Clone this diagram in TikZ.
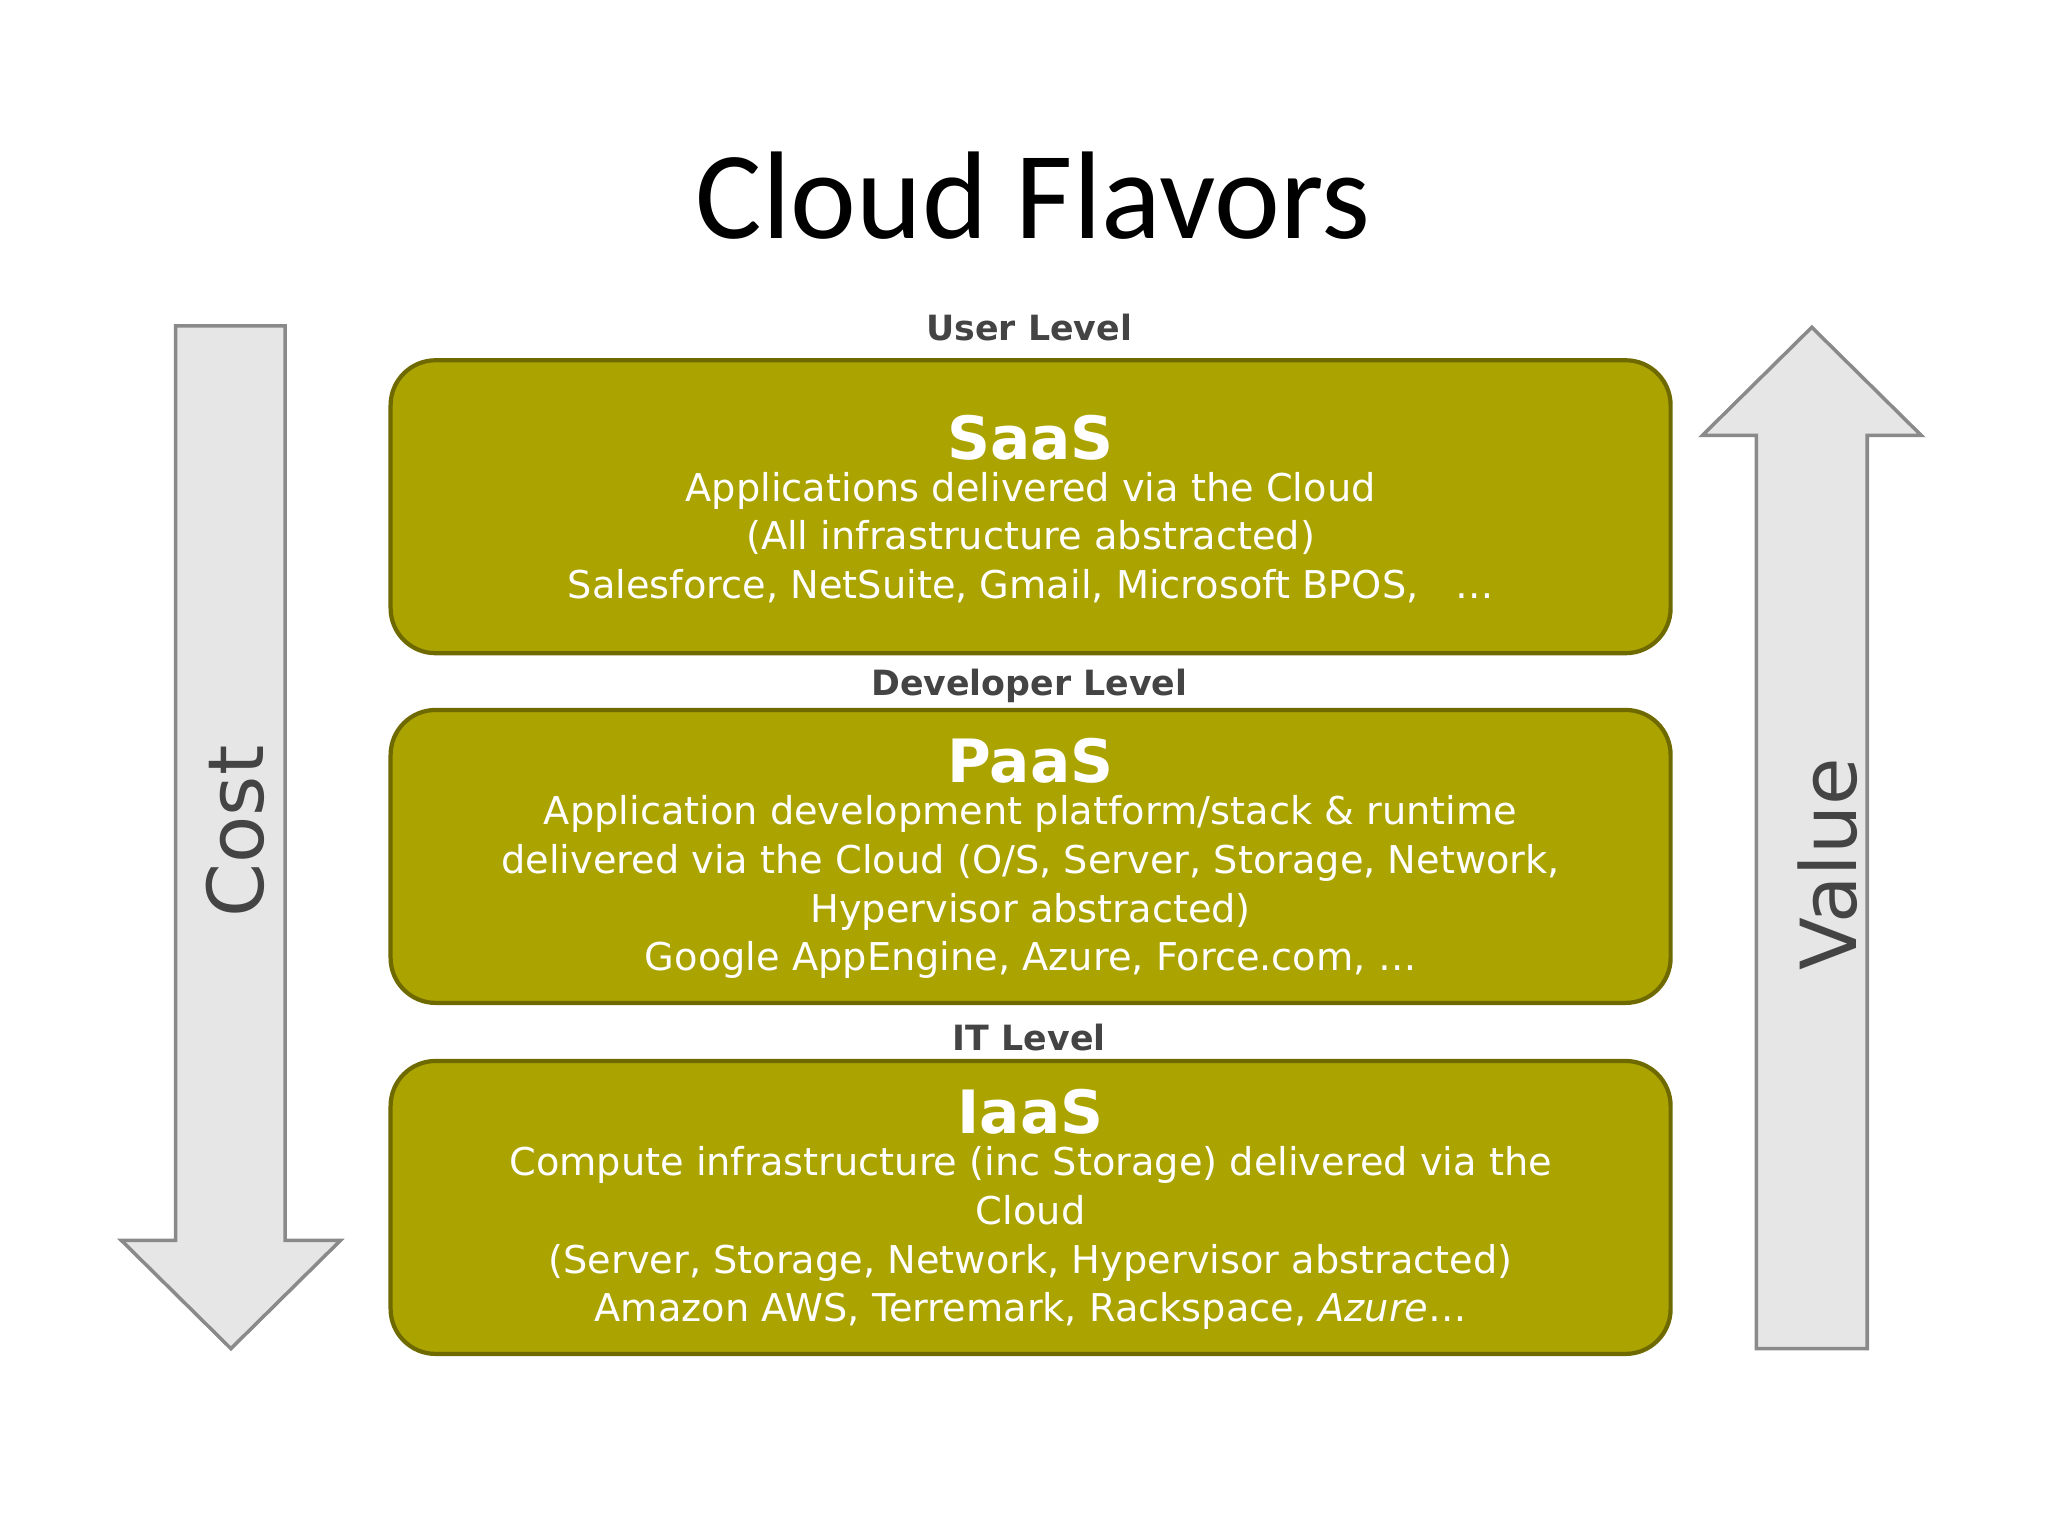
\documentclass[tikz,border=0pt]{standalone}
\usepackage{fontspec}
\setmainfont{DejaVu Sans}
\newfontfamily\titlefont{Carlito}
\definecolor{olive}{HTML}{ABA300}
\definecolor{olivedark}{HTML}{6F6A00}
\definecolor{arrowfill}{HTML}{E6E6E6}
\definecolor{arrowline}{HTML}{8A8A8A}
\definecolor{lvl}{HTML}{444444}
\begin{document}
\begin{tikzpicture}[x=0.0132cm,y=-0.0132cm,
  layer/.style={draw=olivedark,line width=1.2pt,fill=olive,rounded corners=0.45cm},
  lvltext/.style={font=\fontsize{9.9}{11}\selectfont\bfseries,text=lvl},
  boxtext/.style={text=white,align=center,font=\fontsize{10.9}{13.9}\selectfont},
  bigarrow/.style={draw=arrowline,line width=1pt,fill=arrowfill}]
\useasboundingbox (0,0) rectangle (1552,1164);
\node[font=\titlefont\fontsize{35.5}{40}\selectfont] (title) at (783,148) {Cloud Flavors};
% Cost arrow
\draw[bigarrow] (133,247) -- (216,247) -- (216,940) -- (258,940) -- (175,1022) -- (92,940) -- (133,940) -- cycle;
\node[rotate=90,font=\fontsize{22}{24}\selectfont,text=lvl] (cost) at (178,630) {Cost};
% Value arrow
\draw[bigarrow] (1331,1022) -- (1415,1022) -- (1415,330) -- (1456,330) -- (1373,248) -- (1290,330) -- (1331,330) -- cycle;
\node[rotate=90,font=\fontsize{22}{24}\selectfont,text=lvl] (value) at (1385,655) {Value};
% boxes
\draw[layer] (296,273) rectangle (1266,495);
\draw[layer] (296,538) rectangle (1266,760);
\draw[layer] (296,804) rectangle (1266,1026);
\node[lvltext] (l1) at (780,248) {User Level};
\node[lvltext] (l2) at (780,520) {Developer Level};
\node[lvltext] (l3) at (780,786) {IT Level};
\node[boxtext,anchor=north] (saas) at (781,305) {{\fontsize{17}{19}\selectfont\bfseries SaaS}\\[-2pt]
Applications delivered via the Cloud\\(All infrastructure abstracted)\\Salesforce, NetSuite, Gmail, Microsoft BPOS, \ \ …};
\node[boxtext,anchor=north] (paas) at (781,550) {{\fontsize{17}{19}\selectfont\bfseries PaaS}\\[-2pt]
Application development platform/stack \& runtime\\delivered via the Cloud (O/S, Server, Storage, Network,\\Hypervisor abstracted)\\Google AppEngine, Azure, Force.com, …};
\node[boxtext,anchor=north] (iaas) at (781,816) {{\fontsize{17}{19}\selectfont\bfseries IaaS}\\[-2pt]
Compute infrastructure (inc Storage) delivered via the\\Cloud\\(Server, Storage, Network, Hypervisor abstracted)\\Amazon AWS, Terremark, Rackspace, \textit{Azure}…};
\end{tikzpicture}
\end{document}
